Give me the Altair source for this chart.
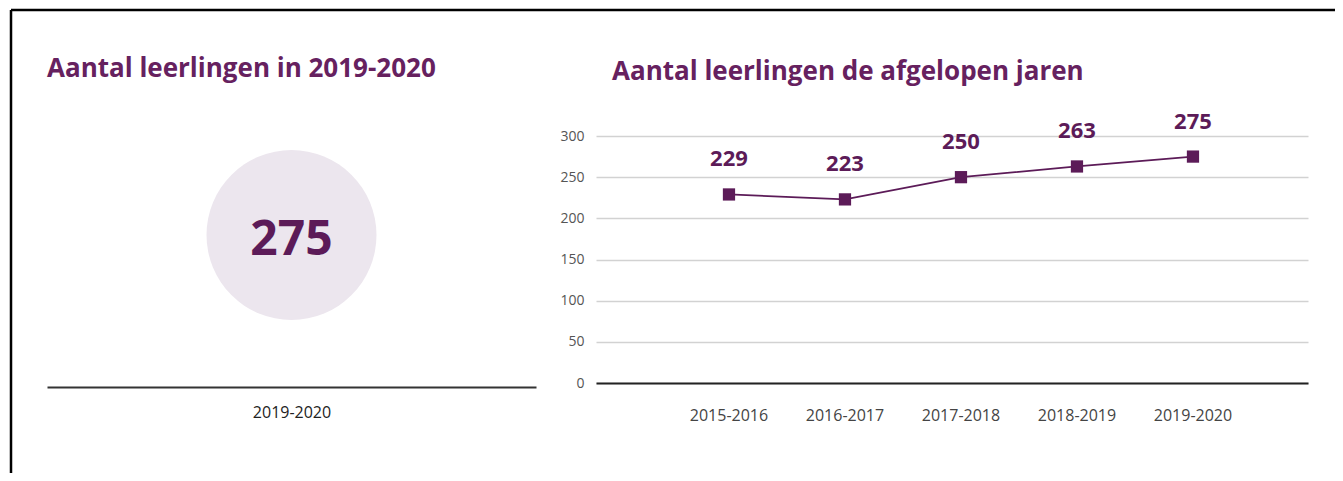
import altair as alt
import pandas as pd

# ---- data ----
perioden = ["2015-2016", "2016-2017", "2017-2018", "2018-2019", "2019-2020"]
leerlingen = [229, 223, 250, 263, 275]
huidig_periode = ["2019-2020"]
huidig_aantal = [275]
y_ticks = [0, 50, 100, 150, 200, 250, 300]
titel_links = ["Aantal leerlingen in 2019-2020"]
titel_rechts = ["Aantal leerlingen de afgelopen jaren"]

PURPLE = "#5c1b58"
TITLE_PURPLE = "#66215f"
CIRCLE = "#ece6ee"
FONT = "Open Sans"

W, H = 1324, 463

df_line = pd.DataFrame({"periode": perioden, "leerlingen": leerlingen})
df_now = pd.DataFrame({"huidig": huidig_periode, "aantal": huidig_aantal})
one = pd.DataFrame({"k": [0]})

frame_top = alt.Chart(one).mark_rule(color="black", strokeWidth=2.5).encode(
    x=alt.value(0), x2=alt.value(W), y=alt.value(0))
frame_left = alt.Chart(one).mark_rule(color="black", strokeWidth=2.5).encode(
    x=alt.value(0), y=alt.value(0), y2=alt.value(H))

title_l = alt.Chart(pd.DataFrame({"t": titel_links})).mark_text(
    align="left", baseline="alphabetic", font=FONT, fontSize=26, fontWeight="bold",
    color=TITLE_PURPLE).encode(text="t:N", x=alt.value(36), y=alt.value(67))
title_r = alt.Chart(pd.DataFrame({"t": titel_rechts})).mark_text(
    align="left", baseline="alphabetic", font=FONT, fontSize=26, fontWeight="bold",
    color=TITLE_PURPLE).encode(text="t:N", x=alt.value(601), y=alt.value(70))

# ---- left panel: current year ----
x_now = alt.X("huidig:N", scale=alt.Scale(range=[36, 525]),
              axis=alt.Axis(title=None, orient="bottom", offset=-86,
                            domainColor="#333", domainWidth=2, ticks=False,
                            labelPadding=17, labelFontSize=16, labelColor="#222",
                            labelAngle=0, grid=False, labelFont=FONT))
circle = alt.Chart(df_now).mark_circle(size=28900, color=CIRCLE, opacity=1).encode(
    x=x_now, y=alt.value(225))
big_num = alt.Chart(df_now).mark_text(
    font=FONT, fontSize=48, fontWeight="bold", color=PURPLE,
    baseline="alphabetic").encode(x=x_now, y=alt.value(245), text="aantal:Q")
left_panel = alt.layer(circle, big_num)

# ---- right panel: line chart ----
x_per = alt.X("periode:N", sort=perioden,
              scale=alt.Scale(type="band", range=[585, 1297], paddingInner=0,
                              paddingOuter=0.569, align=0.568),
              axis=alt.Axis(title=None, orient="bottom", offset=-90,
                            domainColor="#222", domainWidth=2, ticks=False,
                            labelPadding=24, labelFontSize=16, labelColor="#444",
                            labelAngle=0, grid=False, labelFont=FONT))
y_val = alt.Y("leerlingen:Q",
              scale=alt.Scale(domain=[0, 300], range=[373, 126], nice=False, zero=True),
              axis=alt.Axis(title=None, values=y_ticks, orient="left", offset=-585,
                            domain=False, ticks=False, labelPadding=12,
                            labelFontSize=14, labelColor="#555", labelFont=FONT,
                            grid=True, gridColor="#d2d2d2", gridWidth=1.5))

base = alt.Chart(df_line).encode(x=x_per, y=y_val)
line = base.mark_line(color=PURPLE, strokeWidth=1.8)
pts = base.mark_point(shape="square", filled=True, size=150, color=PURPLE, opacity=1)
lbl = base.mark_text(dy=-28, baseline="alphabetic", font=FONT, fontSize=22,
                     fontWeight="bold", color=PURPLE).encode(text="leerlingen:Q")
right_panel = alt.layer(line, pts, lbl)

chart = alt.layer(
    frame_top, frame_left, title_l, title_r, left_panel, right_panel
).resolve_scale(x="independent", y="independent").resolve_axis(
    x="independent", y="independent"
).properties(
    width=W, height=H,
    autosize=alt.AutoSizeParams(type="none"),
    padding={"left": 3, "top": 2, "right": 0, "bottom": 0},
).configure_view(stroke=None)

chart.save("out.html", embed_options={"renderer": "svg", "actions": False})
